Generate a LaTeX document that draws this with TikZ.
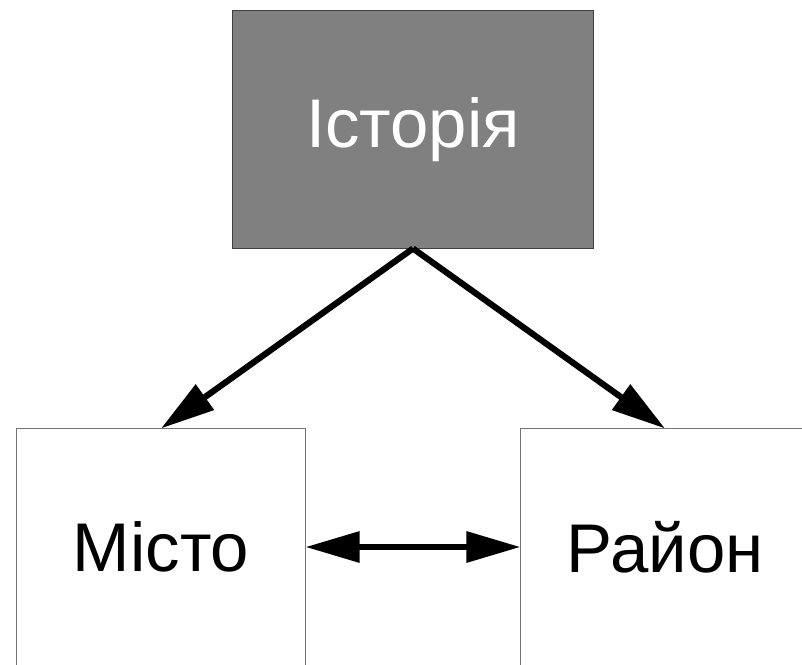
\documentclass[tikz,border=0pt]{standalone}
\usepackage{fontspec}
\setmainfont{Liberation Sans}
\usetikzlibrary{arrows.meta}

\begin{document}
\begin{tikzpicture}[
  x=0.025cm, y=-0.025cm,
  every node/.style={font=\fontsize{49}{59}\selectfont},
  topbox/.style={draw=black!75, fill=black!50, text=white, line width=0.7pt,
    minimum width=9cm, minimum height=5.925cm, inner sep=0pt},
  subbox/.style={draw=black!55, fill=white, line width=0.7pt,
    minimum width=7.2cm, minimum height=5.9cm, inner sep=0pt},
  link/.style={line width=4.4pt, -{Triangle[length=1.35cm, width=0.75cm]}}
]
\useasboundingbox (0,0) rectangle (802,664);
\clip (0,0) rectangle (802,664);
% Boxes
\node[topbox] (history) at (413,129.5) {Історія};
\node[subbox] (city) at (161,547) {Місто};
\node[subbox] (district) at (665,547) {Район};
% Links
\draw[link] (history.south) -- (city.north);
\draw[link] (history.south) -- (district.north);
\draw[link, {Triangle[length=1.35cm, width=0.75cm]}-{Triangle[length=1.35cm, width=0.75cm]}] (city.east) -- (district.west);
\end{tikzpicture}
\end{document}
